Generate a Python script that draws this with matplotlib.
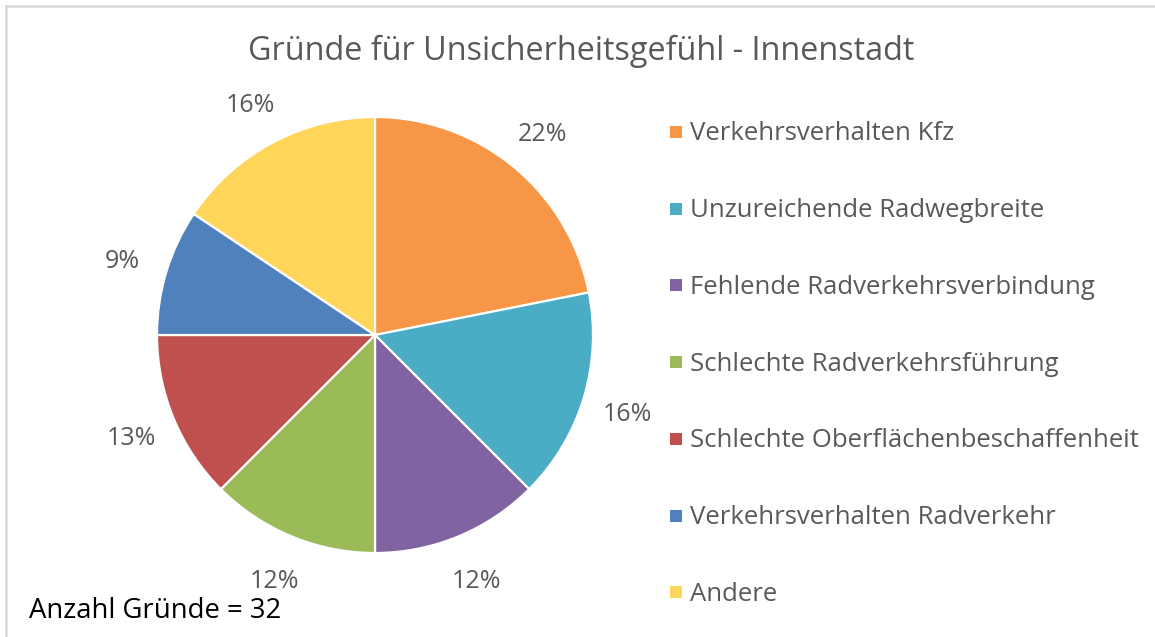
import matplotlib
matplotlib.use("Agg")
import matplotlib.pyplot as plt
from matplotlib.lines import Line2D
from matplotlib.patches import Rectangle

# Data (counts out of 32, labels as shown in the chart)
categories = [
    "Verkehrsverhalten Kfz",
    "Unzureichende Radwegbreite",
    "Fehlende Radverkehrsverbindung",
    "Schlechte Radverkehrsführung",
    "Schlechte Oberflächenbeschaffenheit",
    "Verkehrsverhalten Radverkehr",
    "Andere",
]
counts = [7, 5, 4, 4, 4, 3, 5]
pct_labels = ["22%", "16%", "12%", "12%", "13%", "9%", "16%"]
colors = ["#F79646", "#4BACC6", "#8064A2", "#9BBB59", "#C0504D", "#4F81BD", "#FFD55A"]

title = "Gründe für Unsicherheitsgefühl - Innenstadt"
note = "Anzahl Gründe = 32"

plt.rcParams["font.family"] = ["Open Sans", "DejaVu Sans"]

W, H = 1155, 637
fig = plt.figure(figsize=(W / 100, H / 100), dpi=100)

# frame lines (top and left, as in the cropped screenshot)
fig.add_artist(Line2D([6 / W, 1.0], [1 - 6 / H, 1 - 6 / H], color="#D9D9D9", lw=1.8))
fig.add_artist(Line2D([6 / W, 6 / W], [1 - 6 / H, 0.0], color="#D9D9D9", lw=1.8))

# pie axes: center (375, 335), radius 218 px
cx, cy, r = 375, 335, 218
ax = fig.add_axes([(cx - r) / W, (H - cy - r) / H, 2 * r / W, 2 * r / H])
wedges, texts = ax.pie(
    counts,
    colors=colors,
    labels=pct_labels,
    labeldistance=1.21,
    startangle=90,
    counterclock=False,
    wedgeprops=dict(edgecolor="white", linewidth=1.6),
    textprops=dict(color="#595959", fontsize=18),
)
for t in texts:
    t.set_ha("center")
    t.set_va("center_baseline")
ax.set_xlim(-1, 1)
ax.set_ylim(-1, 1)

fig.text(581 / W, 1 - 60 / H, title, ha="center", va="baseline", fontsize=23.3, color="#595959")

# legend
y0, dy = 132, 76.7
for i, (name, c) in enumerate(zip(categories, colors)):
    y = y0 + i * dy
    fig.add_artist(Rectangle((670 / W, 1 - (y + 6) / H), 12 / W, 12 / H, facecolor=c, edgecolor="none"))
    fig.text(690 / W, 1 - (y + 8.5) / H, name, ha="left", va="baseline", fontsize=18.5, color="#595959")

fig.text(29 / W, 1 - 618 / H, note, ha="left", va="baseline", fontsize=19.8, color="black")

fig.savefig("out.png", dpi=100)
